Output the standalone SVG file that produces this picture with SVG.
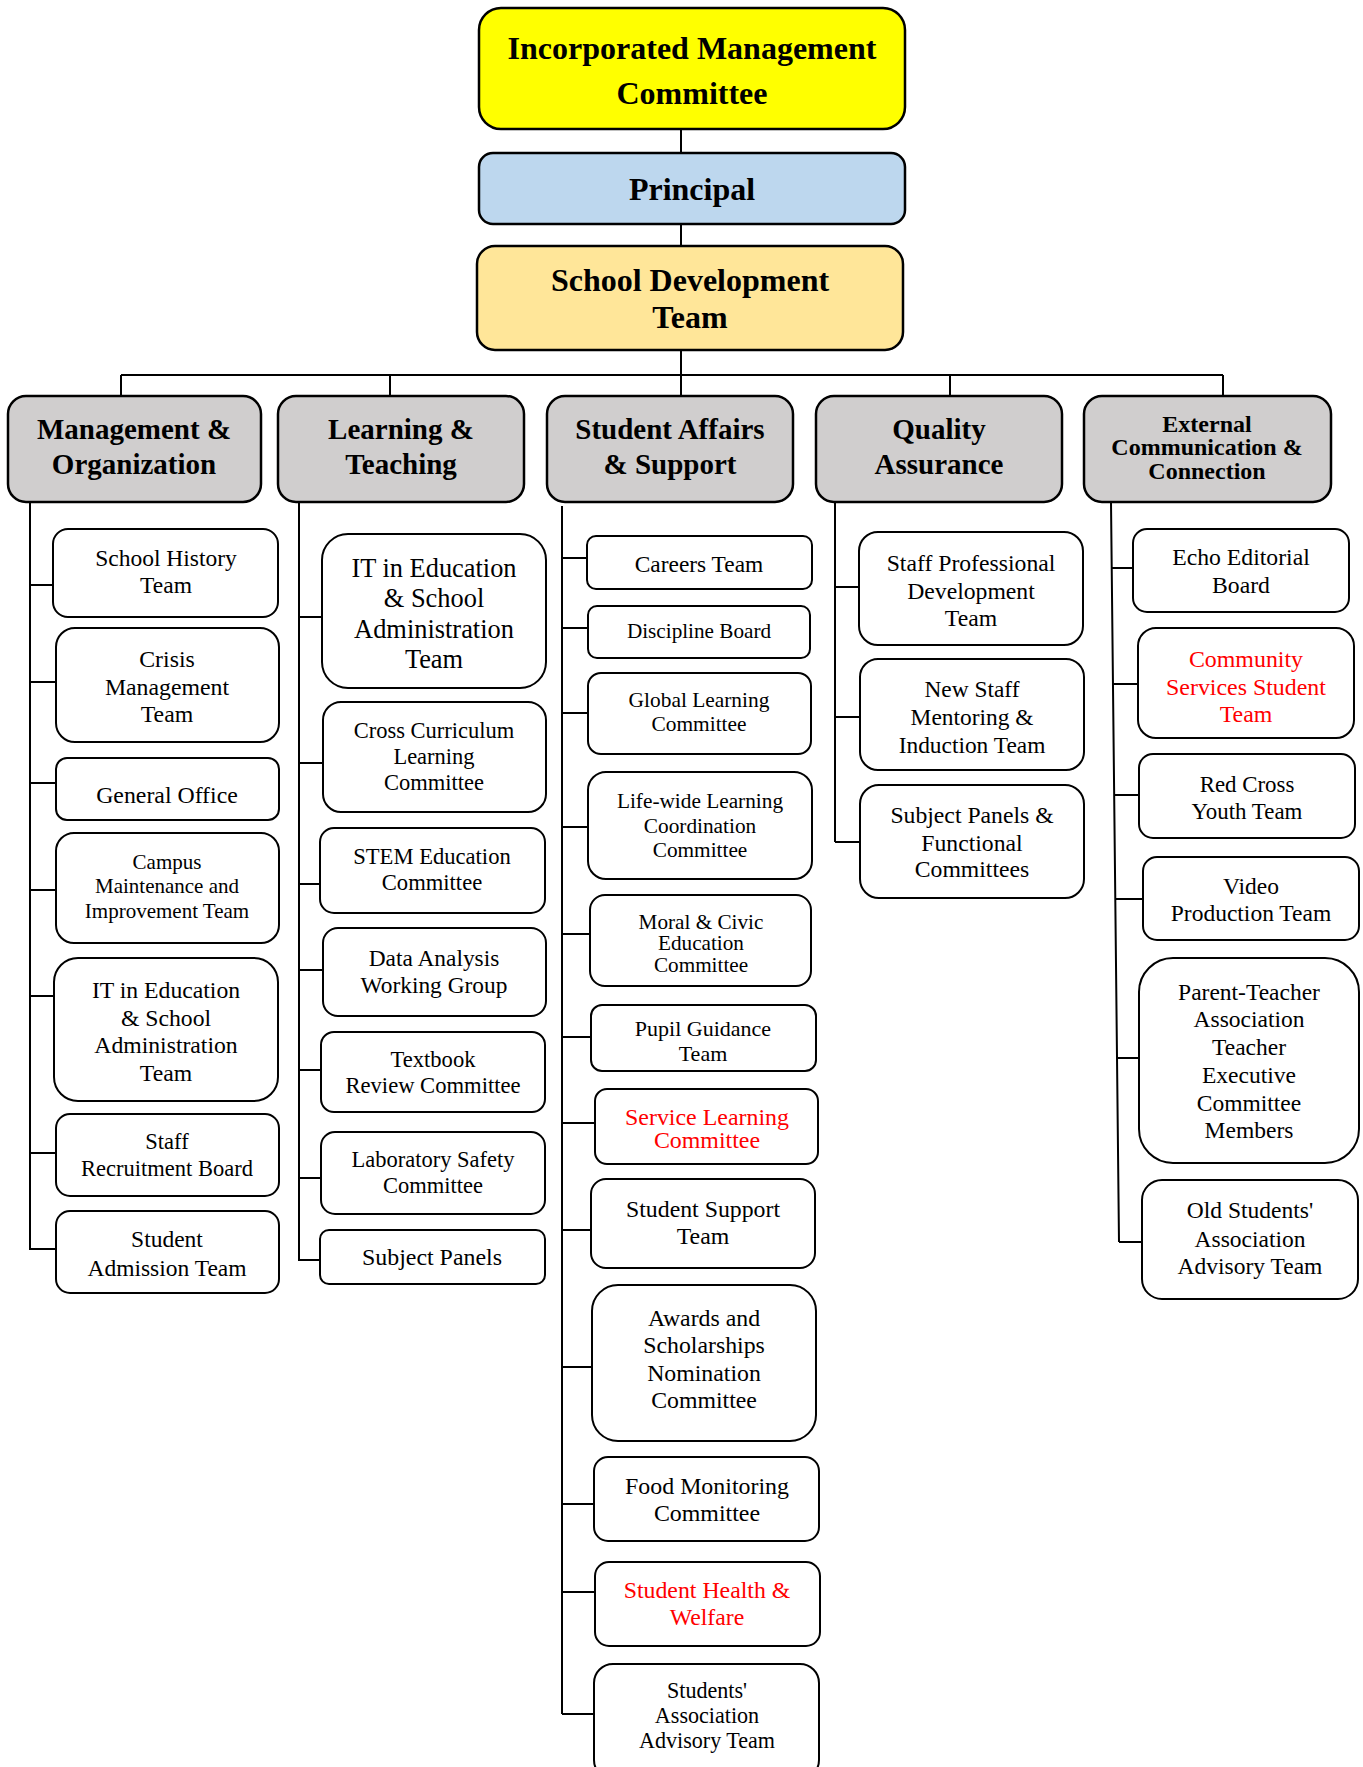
<svg xmlns="http://www.w3.org/2000/svg" width="1363" height="1767" viewBox="0 0 1363 1767">
<style>
.box{fill:#fff;stroke:#000;stroke-width:2}
.cat{fill:#D0CECE;stroke:#000;stroke-width:2.5}
.ln{stroke:#000;stroke-width:2;fill:none}
text{font-family:"Liberation Serif","Times New Roman",serif;text-anchor:middle;fill:#000}
.b{font-weight:bold}
.red{fill:#FF0000}
</style>
<rect width="1363" height="1767" fill="#fff"/>
<g id="connectors">
<path class="ln" d="M681 129V153M681 224V246M681 350V396"/>
<path class="ln" d="M121 375H1223M121 375V396M390 375V396M950 375V396M1223 375V396"/>
<path class="ln" d="M30 502V1250M30 585H53M30 682H56M30 783H56M30 890H56M30 996H54M30 1153H56M30 1249H56"/>
<path class="ln" d="M299 502V1261M299 617H322M299 763H323M299 884H320M299 970H323M299 1070H321M299 1178H321M299 1260H320"/>
<path class="ln" d="M562 506V1714M562 558H587M562 628H588M562 713H588M562 827H588M562 934H590M562 1037H591M562 1123H595M562 1230H591M562 1367H592M562 1504H594M562 1592H595M562 1714H594"/>
<path class="ln" d="M835 502V842M835 587H859M835 717H860M835 842H860"/>
<path class="ln" d="M1111 502L1119 1242M1112 568H1133M1113 684H1138M1114 795H1139M1115 899H1144M1117 1058H1139M1119 1242H1142"/>
</g>
<g id="imc"><rect x="479" y="8" width="426" height="121" rx="22" fill="#FFFF00" stroke="#000" stroke-width="2.5"/>
<text class="b" font-size="32" x="692" y="59">Incorporated Management</text><text class="b" font-size="32" x="692" y="104">Committee</text></g>
<g id="principal"><rect x="479" y="153" width="426" height="71" rx="14" fill="#BDD7EE" stroke="#000" stroke-width="2.5"/>
<text class="b" font-size="32" x="692" y="200">Principal</text></g>
<g id="sdt"><rect x="477" y="246" width="426" height="104" rx="18" fill="#FFE699" stroke="#000" stroke-width="2.5"/>
<text class="b" font-size="32" x="690" y="291">School Development</text><text class="b" font-size="32" x="690" y="328">Team</text></g>

<g id="cat-mo"><rect class="cat" x="8" y="396" width="253" height="106" rx="18"/>
<text class="b" font-size="29" x="134" y="439">Management &amp;</text><text class="b" font-size="29" x="134" y="474">Organization</text></g>
<g id="cat-lt"><rect class="cat" x="278" y="396" width="246" height="106" rx="18"/>
<text class="b" font-size="29" x="401" y="439">Learning &amp;</text><text class="b" font-size="29" x="401" y="474">Teaching</text></g>
<g id="cat-sa"><rect class="cat" x="547" y="396" width="246" height="106" rx="18"/>
<text class="b" font-size="29" x="670" y="439">Student Affairs</text><text class="b" font-size="29" x="670" y="474">&amp; Support</text></g>
<g id="cat-qa"><rect class="cat" x="816" y="396" width="246" height="106" rx="18"/>
<text class="b" font-size="29" x="939" y="439">Quality</text><text class="b" font-size="29" x="939" y="474">Assurance</text></g>
<g id="cat-ec"><rect class="cat" x="1084" y="396" width="247" height="106" rx="18"/>
<text class="b" font-size="24" x="1207" y="432">External</text><text class="b" font-size="24" x="1207" y="455">Communication &amp;</text><text class="b" font-size="24" x="1207" y="479">Connection</text></g>

<g id="school-history"><rect class="box" x="53" y="529" width="225" height="88" rx="15"/>
<text font-size="23.5" x="166" y="566">School History</text><text font-size="23.5" x="166" y="593">Team</text></g>
<g id="crisis"><rect class="box" x="56" y="628" width="223" height="114" rx="19"/>
<text font-size="23.8" x="167" y="667">Crisis</text><text font-size="23.8" x="167" y="695">Management</text><text font-size="23.8" x="167" y="722">Team</text></g>
<g id="general-office"><rect class="box" x="56" y="758" width="223" height="62" rx="11"/>
<text font-size="23.8" x="167" y="803">General Office</text></g>
<g id="campus"><rect class="box" x="56" y="833" width="223" height="110" rx="18"/>
<text font-size="21" x="167" y="869">Campus</text><text font-size="21" x="167" y="893">Maintenance and</text><text font-size="21" x="167" y="918">Improvement Team</text></g>
<g id="it-mo"><rect class="box" x="54" y="958" width="224" height="143" rx="24"/>
<text font-size="23.7" x="166" y="998">IT in Education</text><text font-size="23.7" x="166" y="1026">&amp; School</text><text font-size="23.7" x="166" y="1053">Administration</text><text font-size="23.7" x="166" y="1081">Team</text></g>
<g id="staff-recruitment"><rect class="box" x="56" y="1114" width="223" height="82" rx="14"/>
<text font-size="22.5" x="167" y="1149">Staff</text><text font-size="22.5" x="167" y="1176">Recruitment Board</text></g>
<g id="student-admission"><rect class="box" x="56" y="1211" width="223" height="82" rx="14"/>
<text font-size="23.5" x="167" y="1247">Student</text><text font-size="23.5" x="167" y="1276">Admission Team</text></g>

<g id="it-lt"><rect class="box" x="322" y="534" width="224" height="154" rx="26"/>
<text font-size="26.4" x="434" y="577">IT in Education</text><text font-size="26.4" x="434" y="607">&amp; School</text><text font-size="26.4" x="434" y="638">Administration</text><text font-size="26.4" x="434" y="668">Team</text></g>
<g id="cross-curriculum"><rect class="box" x="323" y="702" width="223" height="110" rx="18"/>
<text font-size="22.5" x="434" y="738">Cross Curriculum</text><text font-size="22.5" x="434" y="764">Learning</text><text font-size="22.5" x="434" y="790">Committee</text></g>
<g id="stem"><rect class="box" x="320" y="828" width="225" height="85" rx="14"/>
<text font-size="22.6" x="432" y="864">STEM Education</text><text font-size="22.6" x="432" y="890">Committee</text></g>
<g id="data-analysis"><rect class="box" x="323" y="928" width="223" height="88" rx="15"/>
<text font-size="23.4" x="434" y="966">Data Analysis</text><text font-size="23.4" x="434" y="993">Working Group</text></g>
<g id="textbook"><rect class="box" x="321" y="1032" width="224" height="80" rx="13"/>
<text font-size="22.6" x="433" y="1067">Textbook</text><text font-size="22.6" x="433" y="1093">Review Committee</text></g>
<g id="lab-safety"><rect class="box" x="321" y="1132" width="224" height="82" rx="14"/>
<text font-size="22.5" x="433" y="1167">Laboratory Safety</text><text font-size="22.5" x="433" y="1193">Committee</text></g>
<g id="subject-panels"><rect class="box" x="320" y="1230" width="225" height="54" rx="9"/>
<text font-size="23.9" x="432" y="1265">Subject Panels</text></g>

<g id="careers"><rect class="box" x="587" y="536" width="225" height="53" rx="9"/>
<text font-size="23.4" x="699" y="572">Careers Team</text></g>
<g id="discipline"><rect class="box" x="588" y="606" width="222" height="52" rx="9"/>
<text font-size="21.2" x="699" y="638">Discipline Board</text></g>
<g id="global-learning"><rect class="box" x="588" y="673" width="223" height="81" rx="13"/>
<text font-size="21.4" x="699" y="707">Global Learning</text><text font-size="21.4" x="699" y="731">Committee</text></g>
<g id="life-wide"><rect class="box" x="588" y="772" width="224" height="107" rx="18"/>
<text font-size="21.3" x="700" y="808">Life-wide Learning</text><text font-size="21.3" x="700" y="833">Coordination</text><text font-size="21.3" x="700" y="857">Committee</text></g>
<g id="moral-civic"><rect class="box" x="590" y="895" width="221" height="91" rx="15"/>
<text font-size="21.2" x="701" y="929">Moral &amp; Civic</text><text font-size="21.2" x="701" y="950">Education</text><text font-size="21.2" x="701" y="972">Committee</text></g>
<g id="pupil-guidance"><rect class="box" x="591" y="1005" width="225" height="66" rx="11"/>
<text font-size="22" x="703" y="1036">Pupil Guidance</text><text font-size="22" x="703" y="1061">Team</text></g>
<g id="service-learning"><rect class="box" x="595" y="1089" width="223" height="75" rx="12"/>
<text class="red" font-size="23.9" x="707" y="1125">Service Learning</text><text class="red" font-size="23.9" x="707" y="1148">Committee</text></g>
<g id="student-support"><rect class="box" x="591" y="1179" width="224" height="89" rx="15"/>
<text font-size="23.8" x="703" y="1217">Student Support</text><text font-size="23.8" x="703" y="1244">Team</text></g>
<g id="awards"><rect class="box" x="592" y="1285" width="224" height="156" rx="26"/>
<text font-size="23.8" x="704" y="1326">Awards and</text><text font-size="23.8" x="704" y="1353">Scholarships</text><text font-size="23.8" x="704" y="1381">Nomination</text><text font-size="23.8" x="704" y="1408">Committee</text></g>
<g id="food-monitoring"><rect class="box" x="594" y="1457" width="225" height="84" rx="14"/>
<text font-size="23.9" x="707" y="1494">Food Monitoring</text><text font-size="23.9" x="707" y="1521">Committee</text></g>
<g id="student-health"><rect class="box" x="595" y="1562" width="225" height="84" rx="14"/>
<text class="red" font-size="23.8" x="707" y="1598">Student Health &amp;</text><text class="red" font-size="23.8" x="707" y="1625">Welfare</text></g>
<g id="students-association"><rect class="box" x="594" y="1664" width="225" height="115" rx="19"/>
<text font-size="22.1" x="707" y="1698">Students'</text><text font-size="22.1" x="707" y="1723">Association</text><text font-size="22.1" x="707" y="1748">Advisory Team</text></g>

<g id="staff-professional"><rect class="box" x="859" y="532" width="224" height="113" rx="19"/>
<text font-size="23.7" x="971" y="571">Staff Professional</text><text font-size="23.7" x="971" y="599">Development</text><text font-size="23.7" x="971" y="626">Team</text></g>
<g id="new-staff"><rect class="box" x="860" y="659" width="224" height="111" rx="18"/>
<text font-size="23.4" x="972" y="697">New Staff</text><text font-size="23.4" x="972" y="725">Mentoring &amp;</text><text font-size="23.4" x="972" y="753">Induction Team</text></g>
<g id="subject-panels-functional"><rect class="box" x="860" y="785" width="224" height="113" rx="19"/>
<text font-size="23.7" x="972" y="823">Subject Panels &amp;</text><text font-size="23.7" x="972" y="851">Functional</text><text font-size="23.7" x="972" y="877">Committees</text></g>

<g id="echo"><rect class="box" x="1133" y="529" width="216" height="83" rx="14"/>
<text font-size="23.7" x="1241" y="565">Echo Editorial</text><text font-size="23.7" x="1241" y="593">Board</text></g>
<g id="community-services"><rect class="box" x="1138" y="628" width="216" height="110" rx="18"/>
<text class="red" font-size="23.9" x="1246" y="667">Community</text><text class="red" font-size="23.9" x="1246" y="695">Services Student</text><text class="red" font-size="23.9" x="1246" y="722">Team</text></g>
<g id="red-cross"><rect class="box" x="1139" y="754" width="216" height="84" rx="14"/>
<text font-size="22.9" x="1247" y="792">Red Cross</text><text font-size="22.9" x="1247" y="819">Youth Team</text></g>
<g id="video"><rect class="box" x="1143" y="857" width="216" height="83" rx="14"/>
<text font-size="23.5" x="1251" y="894">Video</text><text font-size="23.5" x="1251" y="921">Production Team</text></g>
<g id="pta"><rect class="box" x="1139" y="958" width="220" height="205" rx="34"/>
<text font-size="23.5" x="1249" y="1000">Parent-Teacher</text><text font-size="23.5" x="1249" y="1027">Association</text><text font-size="23.5" x="1249" y="1055">Teacher</text><text font-size="23.5" x="1249" y="1083">Executive</text><text font-size="23.5" x="1249" y="1111">Committee</text><text font-size="23.5" x="1249" y="1138">Members</text></g>
<g id="old-students"><rect class="box" x="1142" y="1180" width="216" height="119" rx="20"/>
<text font-size="23.5" x="1250" y="1218">Old Students'</text><text font-size="23.5" x="1250" y="1247">Association</text><text font-size="23.5" x="1250" y="1274">Advisory Team</text></g>
</svg>
